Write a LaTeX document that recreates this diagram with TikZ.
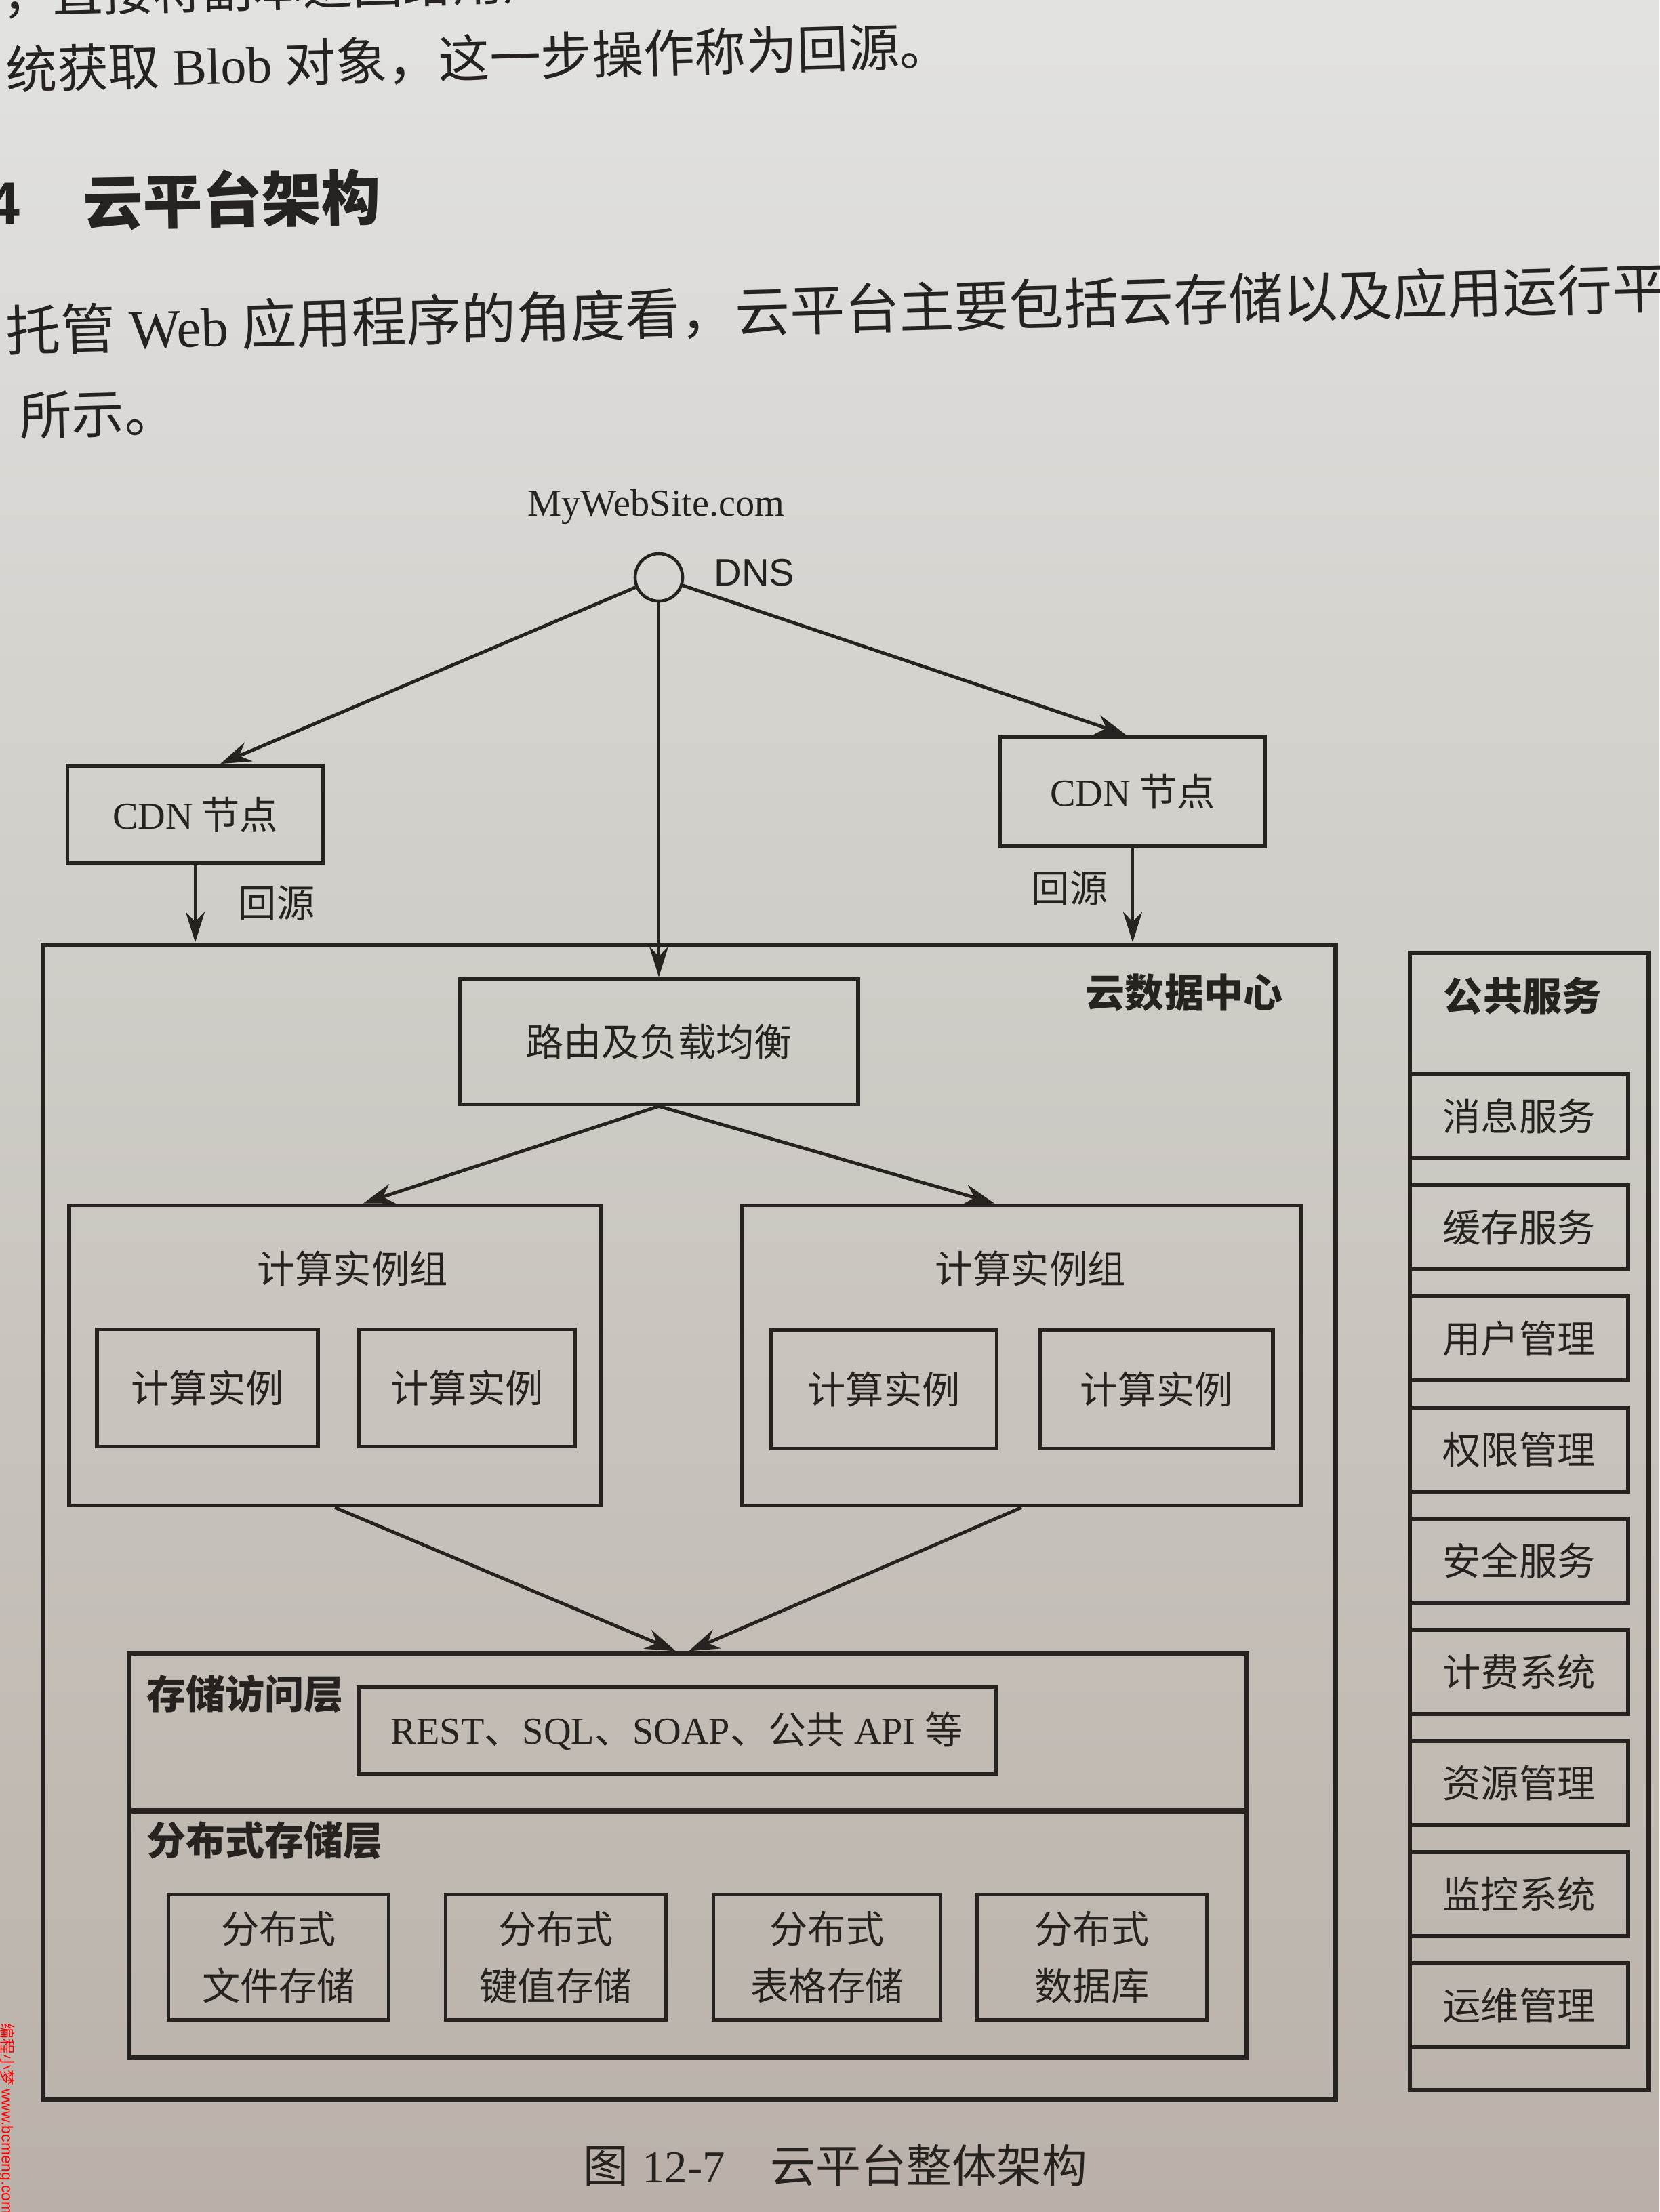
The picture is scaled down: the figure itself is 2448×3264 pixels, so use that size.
\documentclass[tikz,border=0pt]{standalone}
\usepackage{fontspec}
\setmainfont{Liberation Serif}
\setsansfont{Liberation Sans}
\newfontfamily\cjk{Noto Sans CJK SC}
\usetikzlibrary{arrows.meta,calc}
\definecolor{paperT}{HTML}{E2E2DF}
\definecolor{paperM}{HTML}{D6D3CE}
\definecolor{paperB}{HTML}{B9B1A9}
\definecolor{ink}{HTML}{26221F}
\begin{document}
\begin{tikzpicture}[x=0.01cm,y=-0.01cm,
  every node/.style={text=ink},
  box/.style={draw=ink, line width=1.6pt, rectangle, inner sep=0pt},
  big/.style={draw=ink, line width=2pt, rectangle, inner sep=0pt},
  lbl/.style={font=\cjk\fontsize{16}{24}\selectfont},
  head/.style={font=\cjk\bfseries\fontsize{16.5}{20}\selectfont},
  arr/.style={draw=ink, line width=1.4pt, -{Stealth[length=0.45cm,width=0.3cm]}},
  thinarr/.style={draw=ink, line width=1pt, -{Stealth[length=0.45cm,width=0.28cm]}},
  pagetxt/.style={anchor=west, rotate=1.5, inner sep=0pt},
]
\useasboundingbox (0,0) rectangle (2448,3264);
\shade[top color=paperT, middle color=paperM, bottom color=paperB] (0,0) rectangle (2448,3264);
\clip (0,0) rectangle (2448,3264);

% ---- page text ----
\node[pagetxt, font=\cjk\fontsize{21}{25}\selectfont] (p0) at (3,-7) {，直接将副本返回给用户};
\node[pagetxt, font=\fontsize{21.5}{25}\selectfont] (p1) at (8,104) {{\cjk 统获取} Blob {\cjk 对象，这一步操作称为回源。}};
\node[anchor=east, inner sep=0pt, font=\sffamily\bfseries\fontsize{25}{30}\selectfont] (h4) at (30,300) {4};
\node[pagetxt, rotate=-0.5, font=\cjk\bfseries\fontsize{25}{30}\selectfont] (h1) at (122,298) {云平台架构};
\node[pagetxt, font=\fontsize{23}{28}\selectfont] (p3) at (8,489) {{\cjk 托管} Web {\cjk 应用程序的角度看，云平台主要包括云存储以及应用运行平}};
\node[pagetxt, font=\cjk\fontsize{22}{26}\selectfont] (p4) at (28,614) {所示。};
\node[anchor=west, inner sep=0pt, font=\fontsize{19}{23}\selectfont] (cap) at (860,3195) {{\cjk 图}\hspace{0.3em}12-7\hspace{1em}{\cjk 云平台整体架构}};
\node[rotate=-90, anchor=west, inner sep=0pt, text=red, font=\cjk\fontsize{6.5}{7}\selectfont] (wm) at (10,2985) {编程小梦 {\sffamily www.bcmeng.com}};

% ---- DNS & CDN ----
\node[circle, draw=ink, line width=1.3pt, minimum size=0.7cm, inner sep=0pt] (dns) at (972,852) {};
\node[font=\fontsize{16}{19}\selectfont] (site) at (968,748) {MyWebSite.com};
\node[font=\sffamily\fontsize{16}{19}\selectfont] (dnsl) at (1113,845) {DNS};
\node[box, lbl, minimum width=3.77cm, minimum height=1.44cm] (cdnL) at (288,1202) {{\rmfamily CDN} 节点};
\node[box, lbl, minimum width=3.91cm, minimum height=1.62cm] (cdnR) at (1671,1168) {{\rmfamily CDN} 节点};

% ---- data center ----
\node[big, minimum width=19.05cm, minimum height=17.03cm] (dc) at (1017,2246) {};
\node[head] (dcl) at (1747,1465) {云数据中心};
\node[box, lbl, minimum width=5.87cm, minimum height=1.85cm] (rt) at (972,1537) {路由及负载均衡};

\node[box, minimum width=7.84cm, minimum height=4.43cm] (gL) at (494,2000) {};
\node[box, minimum width=8.26cm, minimum height=4.43cm] (gR) at (1507,2000) {};
\node[lbl] (gLt) at (520,1872) {计算实例组};
\node[lbl] (gRt) at (1520,1872) {计算实例组};
\node[box, lbl, minimum width=3.26cm, minimum height=1.73cm] (i1) at (306,2048) {计算实例};
\node[box, lbl, minimum width=3.19cm, minimum height=1.73cm] (i2) at (689,2048) {计算实例};
\node[box, lbl, minimum width=3.33cm, minimum height=1.75cm] (i3) at (1304,2050) {计算实例};
\node[box, lbl, minimum width=3.44cm, minimum height=1.75cm] (i4) at (1706,2050) {计算实例};

\node[big, minimum width=16.48cm, minimum height=2.32cm] (acc) at (1015,2556) {};
\node[big, minimum width=16.48cm, minimum height=3.64cm] (dist) at (1015,2854) {};
\node[head, anchor=west] (accl) at (204,2499) {存储访问层};
\node[head, anchor=west] (distl) at (204,2716) {分布式存储层};
\node[box, lbl, minimum width=9.40cm, minimum height=1.28cm] (api) at (999,2554) {{\rmfamily REST}、{\rmfamily SQL}、{\rmfamily SOAP}、公共{\rmfamily\ API\ }等};
\node[box, lbl, align=center, minimum width=3.25cm, minimum height=1.85cm] (d1) at (411,2888) {分布式\\文件存储};
\node[box, lbl, align=center, minimum width=3.25cm, minimum height=1.85cm] (d2) at (820,2888) {分布式\\键值存储};
\node[box, lbl, align=center, minimum width=3.35cm, minimum height=1.85cm] (d3) at (1220,2888) {分布式\\表格存储};
\node[box, lbl, align=center, minimum width=3.40cm, minimum height=1.85cm] (d4) at (1611,2888) {分布式\\数据库};

% ---- public services ----
\node[box, line width=1.8pt, minimum width=3.52cm, minimum height=16.77cm] (pub) at (2256,2245) {};
\node[head] (publ) at (2246,1470) {公共服务};
\foreach \i/\t [evaluate=\i as \yy using 1647+(\i-1)*164] in {1/消息服务,2/缓存服务,3/用户管理,4/权限管理,5/安全服务,6/计费系统,7/资源管理,8/监控系统,9/运维管理}{
  \node[box, lbl, minimum width=3.22cm, minimum height=1.24cm] (s\i) at (2241,\yy) {\t};
}

% ---- labels ----
\node[lbl] (hyL) at (408,1332) {回源};
\node[lbl] (hyR) at (1578,1310) {回源};

% ---- connectors ----
\draw[arr] (dns) -- ([xshift=0.37cm]cdnL.north);
\draw[arr] (dns) -- ([xshift=-0.1cm]cdnR.north);
\draw[thinarr] (dns) -- (rt.north);
\draw[thinarr] (cdnL.south) -- (cdnL.south |- dc.north);
\draw[thinarr] (cdnR.south) -- (cdnR.south |- dc.north);
\draw[arr] (rt.south) -- ([xshift=0.42cm]gL.north);
\draw[arr] (rt.south) -- ([xshift=-0.4cm]gR.north);
\draw[arr] (gL.south) -- ([xshift=-0.18cm]acc.north);
\draw[arr] (gR.south) -- ([xshift=0.01cm]acc.north);
\end{tikzpicture}
\end{document}
